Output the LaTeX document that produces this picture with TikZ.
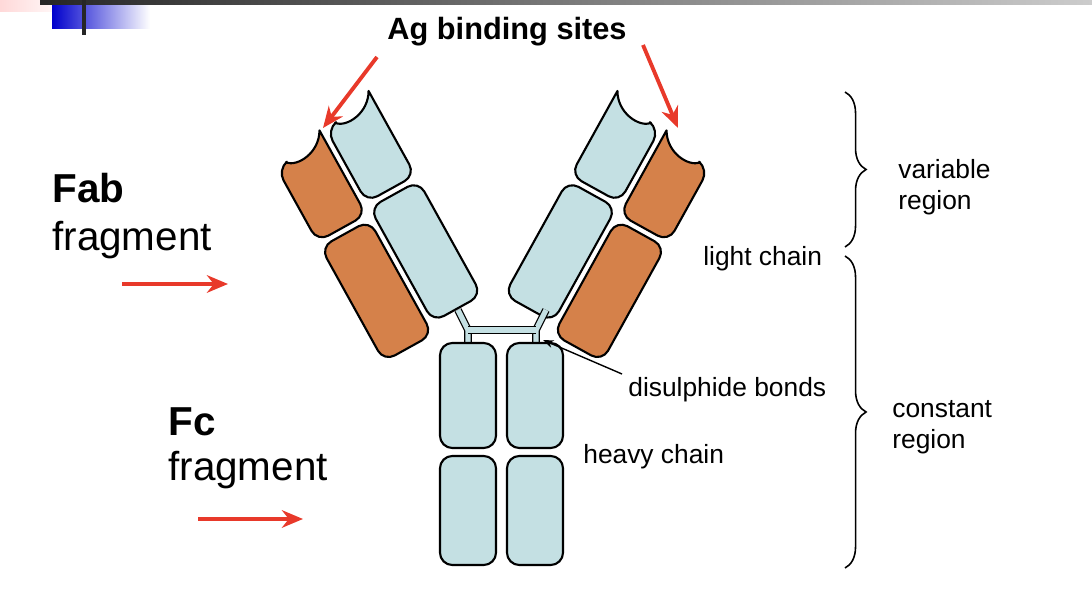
\documentclass[tikz,border=0pt]{standalone}
\usepackage{fontspec}
\setmainfont{Liberation Sans}
\usetikzlibrary{calc,decorations.pathreplacing,arrows.meta}
\definecolor{igblue}{HTML}{C4E0E3}
\definecolor{igorange}{HTML}{D5814A}
\definecolor{agred}{HTML}{E8392A}
\tikzset{
  dom/.style={draw=black, line width=1.2pt, rounded corners=7pt, line join=round},
  heavy/.style={dom, fill=igblue},
  light/.style={dom, fill=igorange},
  redarrow/.style={draw=agred, line width=2.2pt, -{Stealth[length=12pt,width=10pt]}},
  lbl/.style={font=\fontsize{15}{17.5}\selectfont, anchor=west, inner sep=0pt},
  big/.style={font=\fontsize{23}{27}\selectfont, anchor=west, inner sep=0pt},
  hinge/.style={draw=black, line width=0.7pt, double=igblue, double distance=3pt},
  brace/.style={draw=black, line width=0.9pt, decorate, decoration={brace, amplitude=12pt}}
}
% one arm of the Y, local frame: blue column inner, orange column outer
\newcommand{\abarm}{%
  \draw[heavy] (0,0) rectangle (52,-122);
  \draw[heavy] (52,-218) -- (52,-128) -- (0,-128) -- (0,-205) [sharp corners] -- (10,-207)
     .. controls (18,-198) and (42,-200) .. cycle;
  \draw[light] (-58,10) rectangle (-6,-112);
  \draw[light] (-6,-208) -- (-6,-118) -- (-58,-118) -- (-58,-195) [sharp corners] -- (-48,-197)
     .. controls (-40,-188) and (-16,-190) .. cycle;
}
\begin{document}
\begin{tikzpicture}[x=0.02cm, y=-0.02cm]
  \useasboundingbox (0,0) rectangle (1092,614);
  % slide header
  \shade[left color=pink!60, right color=white] (0,0) rectangle (70,12);
  \shade[left color=blue!80!black, right color=white] (52,0) rectangle (150,29);
  \shade[left color=black!85, right color=black!20] (40,1) rectangle (1092,5);
  \draw[black!85, line width=2pt] (84,0) -- (84,35);

  % arms
  \begin{scope}[shift={(433,322)}, rotate=29, scale=1.07]
    \abarm
  \end{scope}
  \begin{scope}[shift={(553,322)}, xscale=-1, rotate=29, scale=1.07]
    \abarm
  \end{scope}

  % hinge and disulphide bonds
  \coordinate (hl) at (468,330);
  \coordinate (hr) at (536,330);
  \draw[hinge] (458,310) -- (hl) -- (468,343);
  \draw[hinge] (546,310) -- (hr) -- (536,343);
  \draw[hinge] (hl) -- (hr);

  % heavy chain stem
  \draw[heavy] (440,343) rectangle (496,448);
  \draw[heavy] (440,456) rectangle (496,565);
  \draw[heavy] (507,343) rectangle (563,448);
  \draw[heavy] (507,456) rectangle (563,565);

  % labels
  \node[font=\bfseries\fontsize{17.5}{20}\selectfont] (ag) at (507,32) {Ag binding sites};
  \coordinate (agl) at (323,128);
  \coordinate (agr) at (678,128);
  \draw[redarrow] (377,57) -- (agl);
  \draw[redarrow] (643,45) -- (agr);

  \node[big, font=\bfseries\fontsize{23}{27}\selectfont] (fab) at (52,188) {Fab};
  \node[big] (fabf) at (52,240) {fragment};
  \coordinate (fabs) at (122,284);
  \coordinate (fabe) at (228,284);
  \draw[redarrow] (fabs) -- (fabe);

  \node[big, font=\bfseries\fontsize{23}{27}\selectfont] (fc) at (168,422) {Fc};
  \node[big] (fcf) at (168,470) {fragment};
  \coordinate (fcs) at (198,519);
  \coordinate (fce) at (303,519);
  \draw[redarrow] (fcs) -- (fce);

  \node[lbl] (lc) at (703,259) {light chain};
  \node[lbl] (ds) at (628,390) {disulphide bonds};
  \node[lbl] (hc) at (583,457) {heavy chain};
  \coordinate (dsend) at (543,340);
  \draw[line width=0.8pt, -{Stealth[length=6pt]}] (622,374) -- (dsend);

  \coordinate (vt) at (845,92);
  \coordinate (vb) at (845,247);
  \coordinate (ct) at (845,256);
  \coordinate (cb) at (845,568);
  \draw[brace] (vt) -- (vb);
  \draw[brace] (ct) -- (cb);
  \node[lbl, align=left] (vr) at (898,187) {variable\\region};
  \node[lbl, align=left] (cr) at (892,427) {constant\\region};
\end{tikzpicture}
\end{document}
